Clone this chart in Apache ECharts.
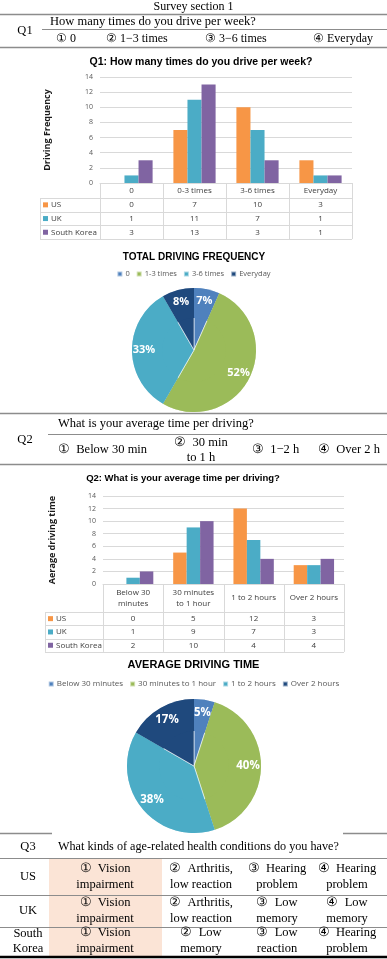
<!DOCTYPE html>
<html>
<head>
<meta charset="utf-8">
<script src="https://cdn.jsdelivr.net/npm/echarts@6/dist/echarts.min.js"></script>
<style>
html, body { margin: 0; padding: 0; background: #fff; }
#main { width: 387px; height: 959px; }
</style>
</head>
<body>
<div id="main"></div>
<script>
// ---- data ----
var countries = ['US', 'UK', 'South Korea'];
var countryColors = ['#F79646', '#4BACC6', '#8064A2'];

var q1Categories = ['0', '0-3 times', '3-6 times', 'Everyday'];
var q1US = [0, 7, 10, 3];
var q1UK = [1, 11, 7, 1];
var q1SK = [3, 13, 3, 1];

var q2Categories = ['Below 30\nminutes', '30 minutes\nto 1 hour', '1 to 2 hours', 'Over 2 hours'];
var q2US = [0, 5, 12, 3];
var q2UK = [1, 9, 7, 3];
var q2SK = [2, 10, 4, 4];

var yMin = 0, yMax = 14, yStep = 2;

var pie1Names = ['0', '1-3 times', '3-6 times', 'Everyday'];
var pie1Values = [4, 31, 20, 5];
var pie2Names = ['Below 30 minutes', '30 minutes to 1 hour', '1 to 2 hours', 'Over 2 hours'];
var pie2Values = [3, 24, 23, 10];
var pieColors = ['#4F81BD', '#9BBB59', '#4BACC6', '#1F497D'];

var q1Options = ['① 0', '② 1−3 times', '③ 3−6 times', '④ Everyday'];
var q2Options = ['①  Below 30 min', '②  30 min\nto 1 h', '③  1−2 h', '④  Over 2 h'];
var q3Rows = ['US', 'UK', 'South\nKorea'];
var q3Answers = [
    ['①  Vision\nimpairment', '②  Arthritis,\nlow reaction', '③  Hearing\nproblem', '④  Hearing\nproblem'],
    ['①  Vision\nimpairment', '②  Arthritis,\nlow reaction', '③  Low\nmemory', '④  Low\nmemory'],
    ['①  Vision\nimpairment', '②  Low\nmemory', '③  Low\nreaction', '④  Hearing\nproblem']
];

// ---- layout ----
var W = 387;
var SERIF = '"Liberation Serif", "Times New Roman", "DejaVu Serif", serif';
var SANS = '"Open Sans", "Noto Sans", sans-serif';
var ARIAL = '"Liberation Sans", Arial, sans-serif';
var RULE = '#8c8c8c', GRIDC = '#d9d9d9', INK = '#404040';

var grid1 = { left: 100, top: 77, width: 252, height: 106 };
var grid2 = { left: 103, top: 496, width: 241, height: 88 };

var graphics = [];
function hline(x1, x2, y, color, w) {
    graphics.push({ type: 'line', silent: true, z: 5, shape: { x1: x1, y1: y, x2: x2, y2: y }, style: { stroke: color, lineWidth: w } });
}
function vline(x, y1, y2, color, w) {
    graphics.push({ type: 'line', silent: true, z: 5, shape: { x1: x, y1: y1, x2: x, y2: y2 }, style: { stroke: color, lineWidth: w } });
}
function label(x, y, str, font, align, color, lh) {
    var st = { x: x, y: y, text: str, font: font, fill: color || '#000', textAlign: align || 'left', textVerticalAlign: 'middle' };
    if (lh) st.lineHeight = lh;
    graphics.push({ type: 'text', silent: true, z: 6, style: st });
}

var serifFont = '12.5px ' + SERIF;

// survey header / Q1
label(193.5, 7, 'Survey section 1', '12px ' + SERIF, 'center');
hline(0, W, 14.5, RULE, 1.5);
label(25, 31, 'Q1', serifFont, 'center');
label(50, 22, 'How many times do you drive per week?', serifFont);
hline(42, W, 29.5, RULE, 1);
[56, 106, 205, 313].forEach(function (x, i) { label(x, 38.5, q1Options[i], '12px ' + SERIF); });
hline(0, W, 47.5, RULE, 1.5);

label(201, 62, 'Q1: How many times do you drive per week?', 'bold 10.5px ' + ARIAL, 'center');
label(194, 257, 'TOTAL DRIVING FREQUENCY', 'bold 10px ' + ARIAL, 'center');

// Q2
hline(0, W, 413.5, RULE, 1.5);
label(25, 440, 'Q2', serifFont, 'center');
label(58, 424, 'What is your average time per driving?', serifFont);
hline(48, W, 434.5, RULE, 1);
label(58, 450, q2Options[0], serifFont);
label(201, 450, q2Options[1], serifFont, 'center', '#000', 15);
label(252, 450, q2Options[2], serifFont);
label(318, 450, q2Options[3], serifFont);
hline(0, W, 464.5, RULE, 1.5);

label(183, 478, 'Q2: What is your average time per driving?', 'bold 9.5px ' + ARIAL, 'center');
label(193.5, 665, 'AVERAGE DRIVING TIME', 'bold 11px ' + ARIAL, 'center');

// Q3
graphics.push({ type: 'rect', silent: true, z: 1, shape: { x: 49, y: 858, width: 113, height: 99 }, style: { fill: '#FBE4D6' } });
hline(0, 52, 833.5, RULE, 1.5);
hline(343, W, 833.5, RULE, 1.5);
label(28, 847, 'Q3', serifFont, 'center');
label(58, 847, 'What kinds of age-related health conditions do you have?', '12.2px ' + SERIF);
hline(0, W, 858.5, RULE, 1);
var q3RowY = [877, 911, 941];
var q3ColX = [105, 201, 277, 347];
q3Rows.forEach(function (r, i) {
    label(28, q3RowY[i], r, serifFont, 'center', '#000', 15);
    q3Answers[i].forEach(function (a, j) { label(q3ColX[j], q3RowY[i], a, serifFont, 'center', '#000', 16); });
});
hline(0, W, 895.5, RULE, 1);
hline(0, W, 927.5, RULE, 1);
hline(0, W, 957, '#000', 2.5);

// data tables below the bar charts
function dataTable(grid, keyLeft, headerH, rowH, rows) {
    var gl = grid.left, gr = grid.left + grid.width, y0 = grid.top + grid.height;
    var y1 = y0 + headerH, yEnd = y1 + rowH * rows.length;
    var n = rows[0].length, colW = grid.width / n;
    for (var i = 0; i <= n; i++) vline(Math.round(gl + i * colW) + 0.5, y0, yEnd, GRIDC, 1);
    vline(keyLeft + 0.5, y1, yEnd, GRIDC, 1);
    for (var r = 0; r <= rows.length; r++) hline(keyLeft, gr, Math.round(y1 + r * rowH) + 0.5, GRIDC, 1);
    rows.forEach(function (vals, r) {
        var cy = y1 + (r + 0.5) * rowH;
        graphics.push({ type: 'rect', silent: true, z: 6, shape: { x: keyLeft + 3, y: cy - 2.5, width: 5, height: 5 }, style: { fill: countryColors[r] } });
        label(keyLeft + 11, cy, countries[r], '8px ' + SANS, 'left', INK);
        vals.forEach(function (v, i) { label(gl + (i + 0.5) * colW, cy, String(v), '8px ' + SANS, 'center', INK); });
    });
}
dataTable(grid1, 40, 15, 13.7, [q1US, q1UK, q1SK]);
dataTable(grid2, 45, 28, 13.3, [q2US, q2UK, q2SK]);

// ---- chart ----
function xAx(gridIndex, cats, margin) {
    return {
        type: 'category', gridIndex: gridIndex, data: cats,
        axisLine: { lineStyle: { color: GRIDC } },
        axisTick: { show: false },
        axisLabel: { margin: margin, verticalAlign: 'middle', fontSize: 8, lineHeight: 11, color: INK, fontFamily: SANS, interval: 0 }
    };
}
function yAx(gridIndex, name, gap) {
    return {
        type: 'value', gridIndex: gridIndex, min: yMin, max: yMax, interval: yStep,
        axisLine: { show: false }, axisTick: { show: false },
        axisLabel: { fontSize: 7, color: '#595959', margin: 7, fontFamily: SANS },
        splitLine: { lineStyle: { color: GRIDC } },
        name: name, nameLocation: 'middle', nameRotate: 90, nameGap: gap,
        nameTextStyle: { fontWeight: 'bold', fontSize: 9, color: '#1a1a1a', fontFamily: SANS }
    };
}
function bars(vals, idx, axis) {
    return {
        type: 'bar', name: countries[idx], xAxisIndex: axis, yAxisIndex: axis, data: vals,
        itemStyle: { color: countryColors[idx] }, barGap: '0%', barCategoryGap: '33%', silent: true
    };
}
function pieData(names, values) {
    return names.map(function (n, i) { return { name: n, value: values[i], itemStyle: { color: pieColors[i] } }; });
}
function pieBase(names, values, center, r) {
    return {
        type: 'pie', center: center, radius: [0, r], data: pieData(names, values),
        label: { show: false }, labelLine: { show: false }, silent: true,
        itemStyle: { borderColor: 'rgba(255,255,255,0.55)', borderWidth: 1 }
    };
}
function pieLabels(names, values, center, r0, r, size) {
    return {
        type: 'pie', center: center, radius: [r0, r], data: pieData(names, values),
        itemStyle: { color: 'rgba(0,0,0,0)' }, silent: true, percentPrecision: 0,
        emphasis: { disabled: true },
        label: { show: true, position: 'inside', formatter: '{d}%', color: '#fff', fontWeight: 'bold', fontSize: size, fontFamily: SANS },
        labelLine: { show: false }
    };
}
function legendData(names) {
    return names.map(function (n, i) { return { name: n, itemStyle: { color: pieColors[i] } }; });
}

var chart = echarts.init(document.getElementById('main'));
var option = {
    animation: false,
    backgroundColor: '#fff',
    grid: [
        { left: grid1.left, top: grid1.top, width: grid1.width, height: grid1.height },
        { left: grid2.left, top: grid2.top, width: grid2.width, height: grid2.height }
    ],
    xAxis: [xAx(0, q1Categories, 7.5), xAx(1, q2Categories, 14)],
    yAxis: [yAx(0, 'Driving Frequency', 48), yAx(1, 'Aerage driving time', 46)],
    legend: [
        { data: legendData(pie1Names), top: 270, left: 'center', icon: 'rect', itemWidth: 5, itemHeight: 5, itemGap: 6, padding: 0, selectedMode: false,
          textStyle: { fontSize: 7.5, color: '#595959', fontFamily: SANS, padding: [0, 0, 0, -2] } },
        { data: legendData(pie2Names), top: 680, left: 'center', icon: 'rect', itemWidth: 5, itemHeight: 5, itemGap: 6, padding: 0, selectedMode: false,
          textStyle: { fontSize: 8, color: '#595959', fontFamily: SANS, padding: [0, 0, 0, -2] } }
    ],
    series: [
        bars(q1US, 0, 0), bars(q1UK, 1, 0), bars(q1SK, 2, 0),
        bars(q2US, 0, 1), bars(q2UK, 1, 1), bars(q2SK, 2, 1),
        pieBase(pie1Names, pie1Values, [194, 350], 62),
        pieBase(pie2Names, pie2Values, [194, 766], 67),
        pieLabels(pie1Names, pie1Values, [194, 350], 32, 62, 11),
        pieLabels(pie2Names, pie2Values, [194, 766], 35, 67, 11.5)
    ],
    graphic: graphics
};
chart.setOption(option);
</script>
</body>
</html>
